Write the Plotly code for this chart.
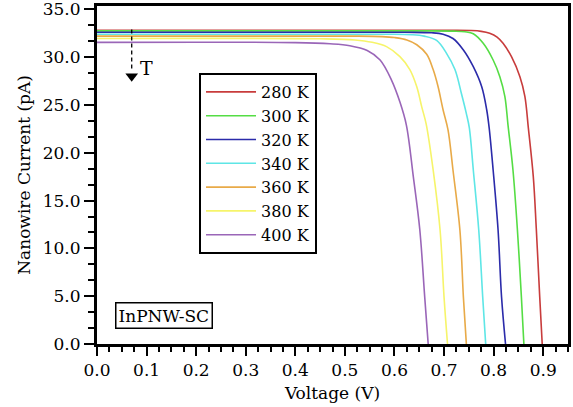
import plotly.graph_objects as go

temps = ["280 K", "300 K", "320 K", "340 K", "360 K", "380 K", "400 K"]
colors = ["#c83c3c", "#55dd44", "#2b2baa", "#5ee6e6", "#e8aa48", "#f6f46a", "#9a66b8"]

v280 = [0, 0.70, 0.755, 0.775, 0.792, 0.807, 0.819, 0.836, 0.853, 0.863, 0.870, 0.880, 0.886, 0.893, 0.898]
i280 = [32.8, 32.8, 32.78, 32.7, 32.5, 32.1, 31.45, 30.05, 27.96, 25.9, 22.6, 17.5, 12.1, 4.9, 0]
v300 = [0, 0.66, 0.72, 0.742, 0.759, 0.779, 0.799, 0.8125, 0.8226, 0.829, 0.839, 0.848, 0.856, 0.861]
i300 = [32.75, 32.75, 32.72, 32.65, 32.45, 31.45, 29.7, 27.96, 25.9, 22.9, 18.2, 11.9, 4.9, 0]
v320 = [0, 0.62, 0.675, 0.698, 0.718, 0.739, 0.759, 0.776, 0.786, 0.791, 0.799, 0.809, 0.816, 0.824]
i320 = [32.6, 32.6, 32.55, 32.4, 31.95, 30.75, 29.0, 26.9, 24.5, 22.6, 18.2, 11.9, 4.9, 0]
v340 = [0, 0.58, 0.635, 0.66, 0.685, 0.705, 0.722, 0.735, 0.745, 0.751, 0.759, 0.770, 0.778, 0.784]
i340 = [32.4, 32.4, 32.35, 32.2, 31.75, 30.4, 28.7, 26.2, 24.1, 22.6, 18.2, 11.9, 4.9, 0]
v360 = [0, 0.52, 0.575, 0.60, 0.625, 0.645, 0.665, 0.678, 0.688, 0.698, 0.708, 0.718, 0.732, 0.739, 0.745]
i360 = [32.2, 32.2, 32.15, 32.05, 31.8, 31.3, 30.3, 28.7, 26.9, 24.5, 22.4, 18.2, 11.9, 4.9, 0]
v380 = [0, 0.45, 0.52, 0.555, 0.584, 0.611, 0.631, 0.645, 0.655, 0.664, 0.678, 0.692, 0.700, 0.707]
i380 = [31.95, 31.92, 31.8, 31.55, 31.1, 30.05, 28.7, 26.9, 24.8, 23.0, 18.2, 11.9, 4.9, 0]
v400 = [0, 0.40, 0.47, 0.51, 0.545, 0.571, 0.594, 0.611, 0.624, 0.638, 0.651, 0.661, 0.668]
i400 = [31.55, 31.52, 31.4, 31.2, 30.7, 29.7, 27.6, 25.3, 22.9, 17.5, 12.0, 4.9, 0]

volts = [v280, v300, v320, v340, v360, v380, v400]
currents = [i280, i300, i320, i340, i360, i380, i400]

xticks = [0.0, 0.1, 0.2, 0.3, 0.4, 0.5, 0.6, 0.7, 0.8, 0.9]
yticks = [0.0, 5.0, 10.0, 15.0, 20.0, 25.0, 30.0, 35.0]

FONT = "DejaVu Serif"

fig = go.Figure()
for k, (t, c) in enumerate(zip(temps, colors)):
    fig.add_trace(go.Scatter(
        x=volts[k], y=currents[k], mode="lines", name=t,
        line=dict(color=c, width=1.6, shape="spline", smoothing=1.0),
    ))

# temperature arrow head
fig.add_trace(go.Scatter(x=[0.07], y=[28.0], mode="markers",
                         marker=dict(symbol="triangle-down", size=11, color="black"),
                         showlegend=False, hoverinfo="skip"))

fig.add_shape(type="line", x0=0.07, x1=0.07, y0=32.9, y1=28.6,
              line=dict(color="black", width=1.3, dash="4px,3px"))
fig.add_annotation(x=0.083, y=28.9, text="T", showarrow=False,
                   xanchor="left", font=dict(family=FONT, size=19, color="black"))
fig.add_annotation(x=0.136, y=3.0, text="InPNW-SC", showarrow=False,
                   font=dict(family=FONT, size=17, color="black"),
                   bordercolor="black", borderwidth=1.5, borderpad=2, bgcolor="white")

fig.update_layout(
    width=573, height=407,
    margin=dict(l=97, r=5, t=6, b=63),
    paper_bgcolor="white", plot_bgcolor="white",
    font=dict(family=FONT, size=17, color="black"),
    showlegend=True,
    legend=dict(x=0.2166, y=0.8018, xanchor="left", yanchor="top",
                bordercolor="black", borderwidth=2, bgcolor="white",
                font=dict(family=FONT, size=16), tracegroupgap=0,
                itemwidth=50),
    xaxis=dict(range=[0, 0.95], tickvals=xticks, ticktext=[f"{v:.1f}" for v in xticks],
               ticks="outside", ticklen=9, tickwidth=2, tickcolor="black",
               showline=True, linewidth=3, linecolor="black", mirror=True,
               showgrid=False, zeroline=False, automargin=False, ticklabeloverflow="allow",
               minor=dict(dtick=0.025, ticks="outside", ticklen=5, tickwidth=1.5, tickcolor="black", showgrid=False),
               title=dict(text="Voltage (V)", font=dict(family=FONT, size=17), standoff=8)),
    yaxis=dict(range=[0, 35.35], tickvals=yticks, ticktext=[f"{v:.1f}" for v in yticks],
               ticks="outside", ticklen=10, tickwidth=2, tickcolor="black",
               showline=True, linewidth=3, linecolor="black", mirror=True,
               showgrid=False, zeroline=False, automargin=False, ticklabeloverflow="allow",
               minor=dict(dtick=5/3, ticks="outside", ticklen=6, tickwidth=1.5, tickcolor="black", showgrid=False),
               title=dict(text="Nanowire Current (pA)", font=dict(family=FONT, size=17), standoff=8)),
)

fig.write_html("out.html", config={"displayModeBar": False},
               post_script="document.body.style.margin='0';")
